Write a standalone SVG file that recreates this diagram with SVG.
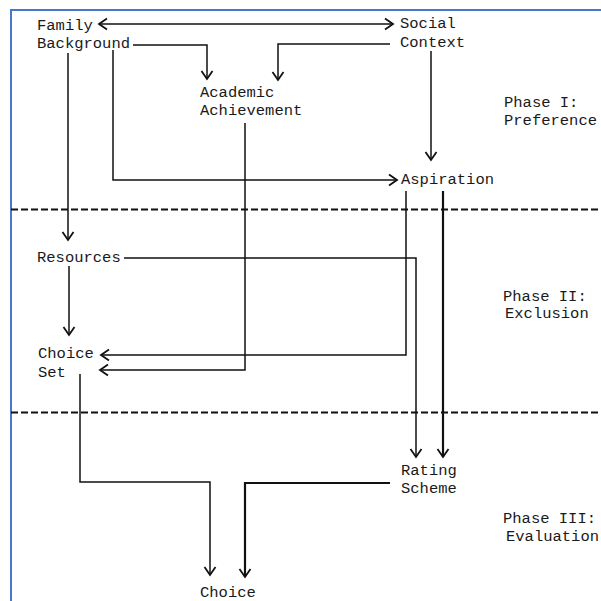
<svg xmlns="http://www.w3.org/2000/svg" width="601" height="601" viewBox="0 0 601 601">
<style>
text{font-family:"Liberation Mono","DejaVu Sans Mono",monospace;font-size:15.5px;fill:#1a1a1a}
.c{fill:none;stroke:#111;stroke-width:1.5}
.t{stroke-width:2.2}
.d{fill:none;stroke:#111;stroke-width:2;stroke-dasharray:7 3}
</style>
<defs>
<marker id="a" markerUnits="userSpaceOnUse" markerWidth="14" markerHeight="14" viewBox="-11 -7 14 14" refX="0" refY="0" orient="auto-start-reverse">
<path d="M-8,-5.5 L0,0 L-8,5.5" fill="none" stroke="#111" stroke-width="1.8"/>
</marker>
</defs>
<rect width="601" height="601" fill="#fff"/>
<path d="M11,601 V10 H601" fill="none" stroke="#4a78c8" stroke-width="2"/>
<g id="phases">
<line class="d" x1="11" y1="209.5" x2="601" y2="209.5"/>
<line class="d" x1="11" y1="412.5" x2="601" y2="412.5"/>
</g>
<g id="connectors">
<path class="c" d="M99,24 H393" marker-start="url(#a)" marker-end="url(#a)"/>
<path class="c" d="M133,45 H207 V79" marker-end="url(#a)"/>
<path class="c" d="M390,44 H278 V80" marker-end="url(#a)"/>
<path class="c" d="M431,51 V160" marker-end="url(#a)"/>
<path class="c" d="M113,50 V180 H397" marker-end="url(#a)"/>
<path class="c" d="M68,53 V240" marker-end="url(#a)"/>
<path class="c" d="M245,123 V370 H100" marker-end="url(#a)"/>
<path class="c" d="M406,191 V355 H101" marker-end="url(#a)"/>
<path class="c t" d="M443,191 V457" marker-end="url(#a)"/>
<path class="c" d="M124,258 H416 V457" marker-end="url(#a)"/>
<path class="c" d="M69,266 V335" marker-end="url(#a)"/>
<path class="c" d="M80,374 V482 H210 V575" marker-end="url(#a)"/>
<path class="c t" d="M390,483 H245 V577" marker-end="url(#a)"/>
</g>
<g id="family-background"><text x="37" y="30">Family</text><text x="37" y="48">Background</text></g>
<g id="social-context"><text x="400" y="28">Social</text><text x="400" y="47">Context</text></g>
<g id="academic-achievement"><text x="200" y="97">Academic</text><text x="200" y="115">Achievement</text></g>
<g id="aspiration"><text x="401" y="184">Aspiration</text></g>
<g id="resources"><text x="37" y="262">Resources</text></g>
<g id="choice-set"><text x="38" y="358">Choice</text><text x="38" y="377">Set</text></g>
<g id="rating-scheme"><text x="401" y="475">Rating</text><text x="401" y="493">Scheme</text></g>
<g id="choice"><text x="200" y="597">Choice</text></g>
<g id="phase-labels">
<text x="504" y="107">Phase I:</text><text x="504" y="125">Preference</text>
<text x="503" y="301">Phase II:</text><text x="505" y="318">Exclusion</text>
<text x="503" y="523">Phase III:</text><text x="506" y="541">Evaluation</text>
</g>
</svg>
